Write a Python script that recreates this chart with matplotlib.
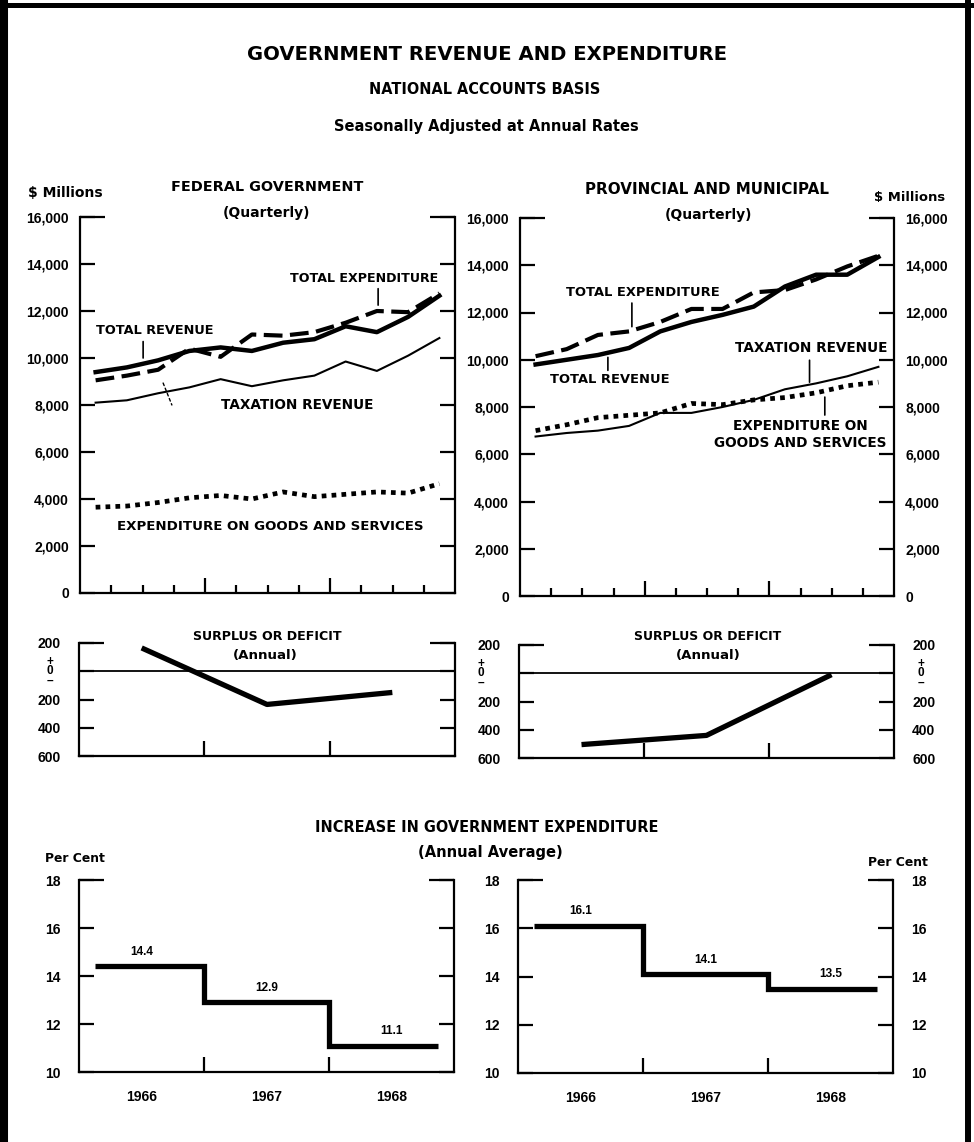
"""Government revenue and expenditure, national accounts basis, 1966-1968.
   Quarterly levels, annual surplus/deficit and annual expenditure growth
   for federal and provincial-municipal governments."""
import matplotlib
matplotlib.use("Agg")
import matplotlib.pyplot as plt
import numpy as np
from matplotlib.lines import Line2D

W, H, DPI = 974, 1142, 100

QUARTERS = ["1966Q1", "1966Q2", "1966Q3", "1966Q4",
            "1967Q1", "1967Q2", "1967Q3", "1967Q4",
            "1968Q1", "1968Q2", "1968Q3", "1968Q4"]
YEARS = ["1966", "1967", "1968"]

# $ millions, seasonally adjusted at annual rates
FED_TOTAL_REV = [9400, 9600, 9900, 10300, 10450, 10300,
                 10650, 10800, 11350, 11100, 11750, 12650]
FED_TOTAL_EXP = [9050, 9250, 9500, 10400, 10050, 11000,
                 10950, 11100, 11500, 12000, 11950, 12750]
FED_TAX_REV = [8100, 8200, 8500, 8750, 9100, 8800,
               9050, 9250, 9850, 9450, 10100, 10850]
FED_GOODS = [3650, 3700, 3850, 4050, 4150, 4000,
             4300, 4100, 4200, 4300, 4250, 4650]

PROV_TOTAL_REV = [9800, 10000, 10200, 10500, 11200, 11600,
                  11900, 12250, 13100, 13600, 13600, 14350]
PROV_TOTAL_EXP = [10150, 10450, 11050, 11200, 11600, 12150,
                  12150, 12850, 12950, 13400, 13950, 14400]
PROV_TAX_REV = [6750, 6900, 7000, 7200, 7750, 7750,
                8000, 8300, 8750, 9000, 9300, 9700]
PROV_GOODS = [7000, 7250, 7550, 7650, 7750, 8150,
              8100, 8300, 8400, 8600, 8900, 9050]

# annual surplus (+) or deficit (-), $ millions
FED_SURPLUS = [165, -235, -150]
PROV_SURPLUS = [-505, -440, -10]

# increase in government expenditure, per cent (annual average)
FED_INCREASE = [14.4, 12.9, 11.1]
PROV_INCREASE = [16.1, 14.1, 13.5]

plt.rcParams["font.family"] = ["DejaVu Sans"]
NUM_FONT = "Liberation Sans"
LW_AX = 1.6
TICK = 10.8     # 15 px
SHORT = 5.8     # 8 px

fig = plt.figure(figsize=(W / DPI, H / DPI), dpi=DPI)
fig.patch.set_facecolor("white")
to_fit = []     # (text, target width in px)


def px_axes(left, top, right, bottom):
    return fig.add_axes([left / W, 1 - bottom / H,
                         (right - left) / W, (bottom - top) / H])


def ftext(x, y, s, width, size=9, **kw):
    t = fig.text(x / W, 1 - y / H, s, fontsize=size, fontweight="bold",
                 ha="center", va="center", **kw)
    to_fit.append((t, width))
    return t


def atext(ax, x, y, s, width, size=9, **kw):
    t = ax.text(x, y, s, fontsize=size, fontweight="bold",
                ha="center", va="center", **kw)
    to_fit.append((t, width))
    return t


def leader(ax, x, y0, y1, **kw):
    ax.annotate("", xy=(x, y1), xytext=(x, y0),
                arrowprops=dict(arrowstyle="-", lw=kw.get("lw", 1.2),
                                ls=kw.get("ls", "-"),
                                shrinkA=0, shrinkB=0, color="black"))


def frame(ax, ylim, yticks, ylabels, right_labels, pad, top_px=25):
    ax.set_ylim(*ylim)
    ax.spines["top"].set_visible(False)
    for s in ("left", "right", "bottom"):
        ax.spines[s].set_linewidth(LW_AX)
    ax.set_yticks(yticks)
    ax.set_yticklabels(ylabels, fontfamily=NUM_FONT, fontweight="bold",
                       fontsize=10)
    ax.tick_params(axis="y", direction="in", left=True, right=True,
                   labelleft=True, labelright=right_labels,
                   length=TICK, width=LW_AX, pad=pad)
    # longer stubs closing the open top of the frame
    f = top_px / (ax.get_position().width * W)
    for a, b in ((0, f), (1 - f, 1)):
        ax.axhline(ylim[1], xmin=a, xmax=b, color="black", lw=LW_AX,
                   clip_on=False, solid_capstyle="butt")


def quarterly(ax, rev, exp, tax, goods, right_labels):
    x = np.arange(len(QUARTERS)) + 0.5
    ax.plot(x, goods, color="black", lw=3.4, ls=(0, (1, 1.1)))
    ax.plot(x, tax, color="black", lw=1.5)
    ax.plot(x, exp, color="black", lw=3.0, ls=(0, (4.5, 1.8)))
    ax.plot(x, rev, color="black", lw=3.2)
    ax.set_xlim(0, len(QUARTERS))
    ax.set_xticks([4, 8])
    ax.set_xticks([1, 2, 3, 5, 6, 7, 9, 10, 11], minor=True)
    ax.tick_params(axis="x", which="major", direction="in", length=TICK,
                   width=LW_AX, labelbottom=False)
    ax.tick_params(axis="x", which="minor", direction="in", length=SHORT,
                   width=LW_AX)
    ticks = list(range(0, 16001, 2000))
    frame(ax, (0, 16000), ticks, [f"{v:,}" for v in ticks],
          right_labels, pad=8)


def surplus(ax, vals, right_labels, zero_cols):
    x = np.arange(len(YEARS)) + 0.5
    ax.axhline(0, color="black", lw=1.3)
    ax.plot(x, vals, color="black", lw=3.8, solid_capstyle="butt")
    ax.set_xlim(0, len(YEARS))
    ax.set_xticks([1, 2])
    ax.tick_params(axis="x", direction="in", length=TICK, width=LW_AX,
                   labelbottom=False)
    frame(ax, (-600, 200), [-600, -400, -200, 0, 200],
          ["600", "400", "200", "", "200"], right_labels, pad=13)
    # the zero label carries a plus sign above and a minus sign below
    bb = ax.get_position()
    for cx in zero_cols:
        xf = (cx - bb.x0 * W) / (bb.width * W)
        ax.annotate("+\n0\n\u2013", xy=(xf, 0),
                    xycoords=("axes fraction", "data"),
                    ha="center", va="center", fontsize=8.5,
                    linespacing=0.72, fontweight="bold",
                    fontfamily=NUM_FONT, annotation_clip=False)


def increase(ax, vals, right_labels):
    n = len(YEARS)
    ax.stairs(vals, [0.125] + list(range(1, n)) + [n - 0.125],
              baseline=None, color="black", lw=3.8)
    for i, v in enumerate(vals):
        ax.text(i + 0.5, v + 0.6, f"{v:.1f}", ha="center", va="center",
                fontsize=8.5, fontweight="bold", fontfamily=NUM_FONT)
    ax.set_xlim(0, n)
    ax.set_xticks(np.arange(n) + 0.5)
    ax.set_xticklabels(YEARS, fontfamily=NUM_FONT, fontweight="bold",
                       fontsize=10)
    ax.tick_params(axis="x", which="major", length=0, pad=13)
    ax.set_xticks(list(range(1, n)), minor=True)
    ax.tick_params(axis="x", which="minor", direction="in", length=TICK,
                   width=LW_AX)
    frame(ax, (10, 18), [10, 12, 14, 16, 18],
          ["10", "12", "14", "16", "18"], right_labels, pad=13)


# ---- quarterly panels ----
ax_f = px_axes(80, 217, 455, 593)
quarterly(ax_f, FED_TOTAL_REV, FED_TOTAL_EXP, FED_TAX_REV, FED_GOODS, False)
atext(ax_f, 9.09, 13400, "TOTAL EXPENDITURE", 148)
leader(ax_f, 9.54, 12950, 12250)
atext(ax_f, 2.4, 11150, "TOTAL REVENUE", 117)
leader(ax_f, 2.02, 10700, 10000)
atext(ax_f, 6.94, 8000, "TAXATION REVENUE", 151)
ax_f.annotate("", xy=(2.94, 8000), xytext=(2.66, 8935),
              arrowprops=dict(arrowstyle="-", lw=1.0, ls=(0, (2, 2)),
                              shrinkA=0, shrinkB=0))
atext(ax_f, 6.08, 2810, "EXPENDITURE ON GOODS AND SERVICES", 304)

ax_p = px_axes(520, 218, 894, 596)
quarterly(ax_p, PROV_TOTAL_REV, PROV_TOTAL_EXP, PROV_TAX_REV, PROV_GOODS,
          True)
atext(ax_p, 3.94, 12860, "TOTAL EXPENDITURE", 152)
leader(ax_p, 3.59, 12400, 11400)
atext(ax_p, 2.88, 9180, "TOTAL REVENUE", 119)
leader(ax_p, 2.82, 10100, 9550)
atext(ax_p, 9.33, 10490, "TAXATION REVENUE", 151)
leader(ax_p, 9.29, 9980, 9050)
atext(ax_p, 9.0, 6850, "EXPENDITURE ON\nGOODS AND SERVICES", 172,
      linespacing=1.25)
leader(ax_p, 9.78, 8420, 7660)

# ---- surplus or deficit ----
ax_fs = px_axes(79, 643, 455, 756)
surplus(ax_fs, FED_SURPLUS, False, [50])
ax_ps = px_axes(519, 645, 894, 758)
surplus(ax_ps, PROV_SURPLUS, True, [481, 921])

# ---- increase in expenditure ----
ax_fi = px_axes(79, 880, 454, 1072)
increase(ax_fi, FED_INCREASE, False)
ax_pi = px_axes(518, 880, 893, 1073)
increase(ax_pi, PROV_INCREASE, True)

# ---- headings ----
ftext(487, 55, "GOVERNMENT REVENUE AND EXPENDITURE", 481, 15)
ftext(485, 90, "NATIONAL ACCOUNTS BASIS", 230)
ftext(486, 127, "Seasonally Adjusted at Annual Rates", 302)
ftext(267, 187, "FEDERAL GOVERNMENT", 191)
ftext(267, 213, "(Quarterly)", 87)
ftext(707, 190, "PROVINCIAL AND MUNICIPAL", 242)
ftext(708, 215, "(Quarterly)", 87)
ftext(65, 193, "$ Millions", 74)
ftext(910, 197, "$ Millions", 70)
ftext(267, 637, "SURPLUS OR DEFICIT", 149)
ftext(265, 655, "(Annual)", 65)
ftext(708, 637, "SURPLUS OR DEFICIT", 147)
ftext(708, 655, "(Annual)", 65)
ftext(487, 828, "INCREASE IN GOVERNMENT EXPENDITURE", 341)
ftext(490, 852, "(Annual Average)", 145)
ftext(75, 859, "Per Cent", 60)
ftext(898, 862, "Per Cent", 60)

# ---- outer border ----
for xs, ys, lw in (([4, 4], [0, H], 5.8),
                   ([0, 972], [5, 5], 3.6),
                   ([968, 968], [0, H], 4.3)):
    fig.add_artist(Line2D([x / W for x in xs], [1 - y / H for y in ys],
                          transform=fig.transFigure, color="black", lw=lw))

# scale heading sizes so each spans the width it has in the original
fig.canvas.draw()
r = fig.canvas.get_renderer()
for t, w in to_fit:
    cur = t.get_window_extent(r).width
    t.set_fontsize(t.get_fontsize() * w / cur)

fig.savefig("out.png", dpi=DPI, facecolor="white")
